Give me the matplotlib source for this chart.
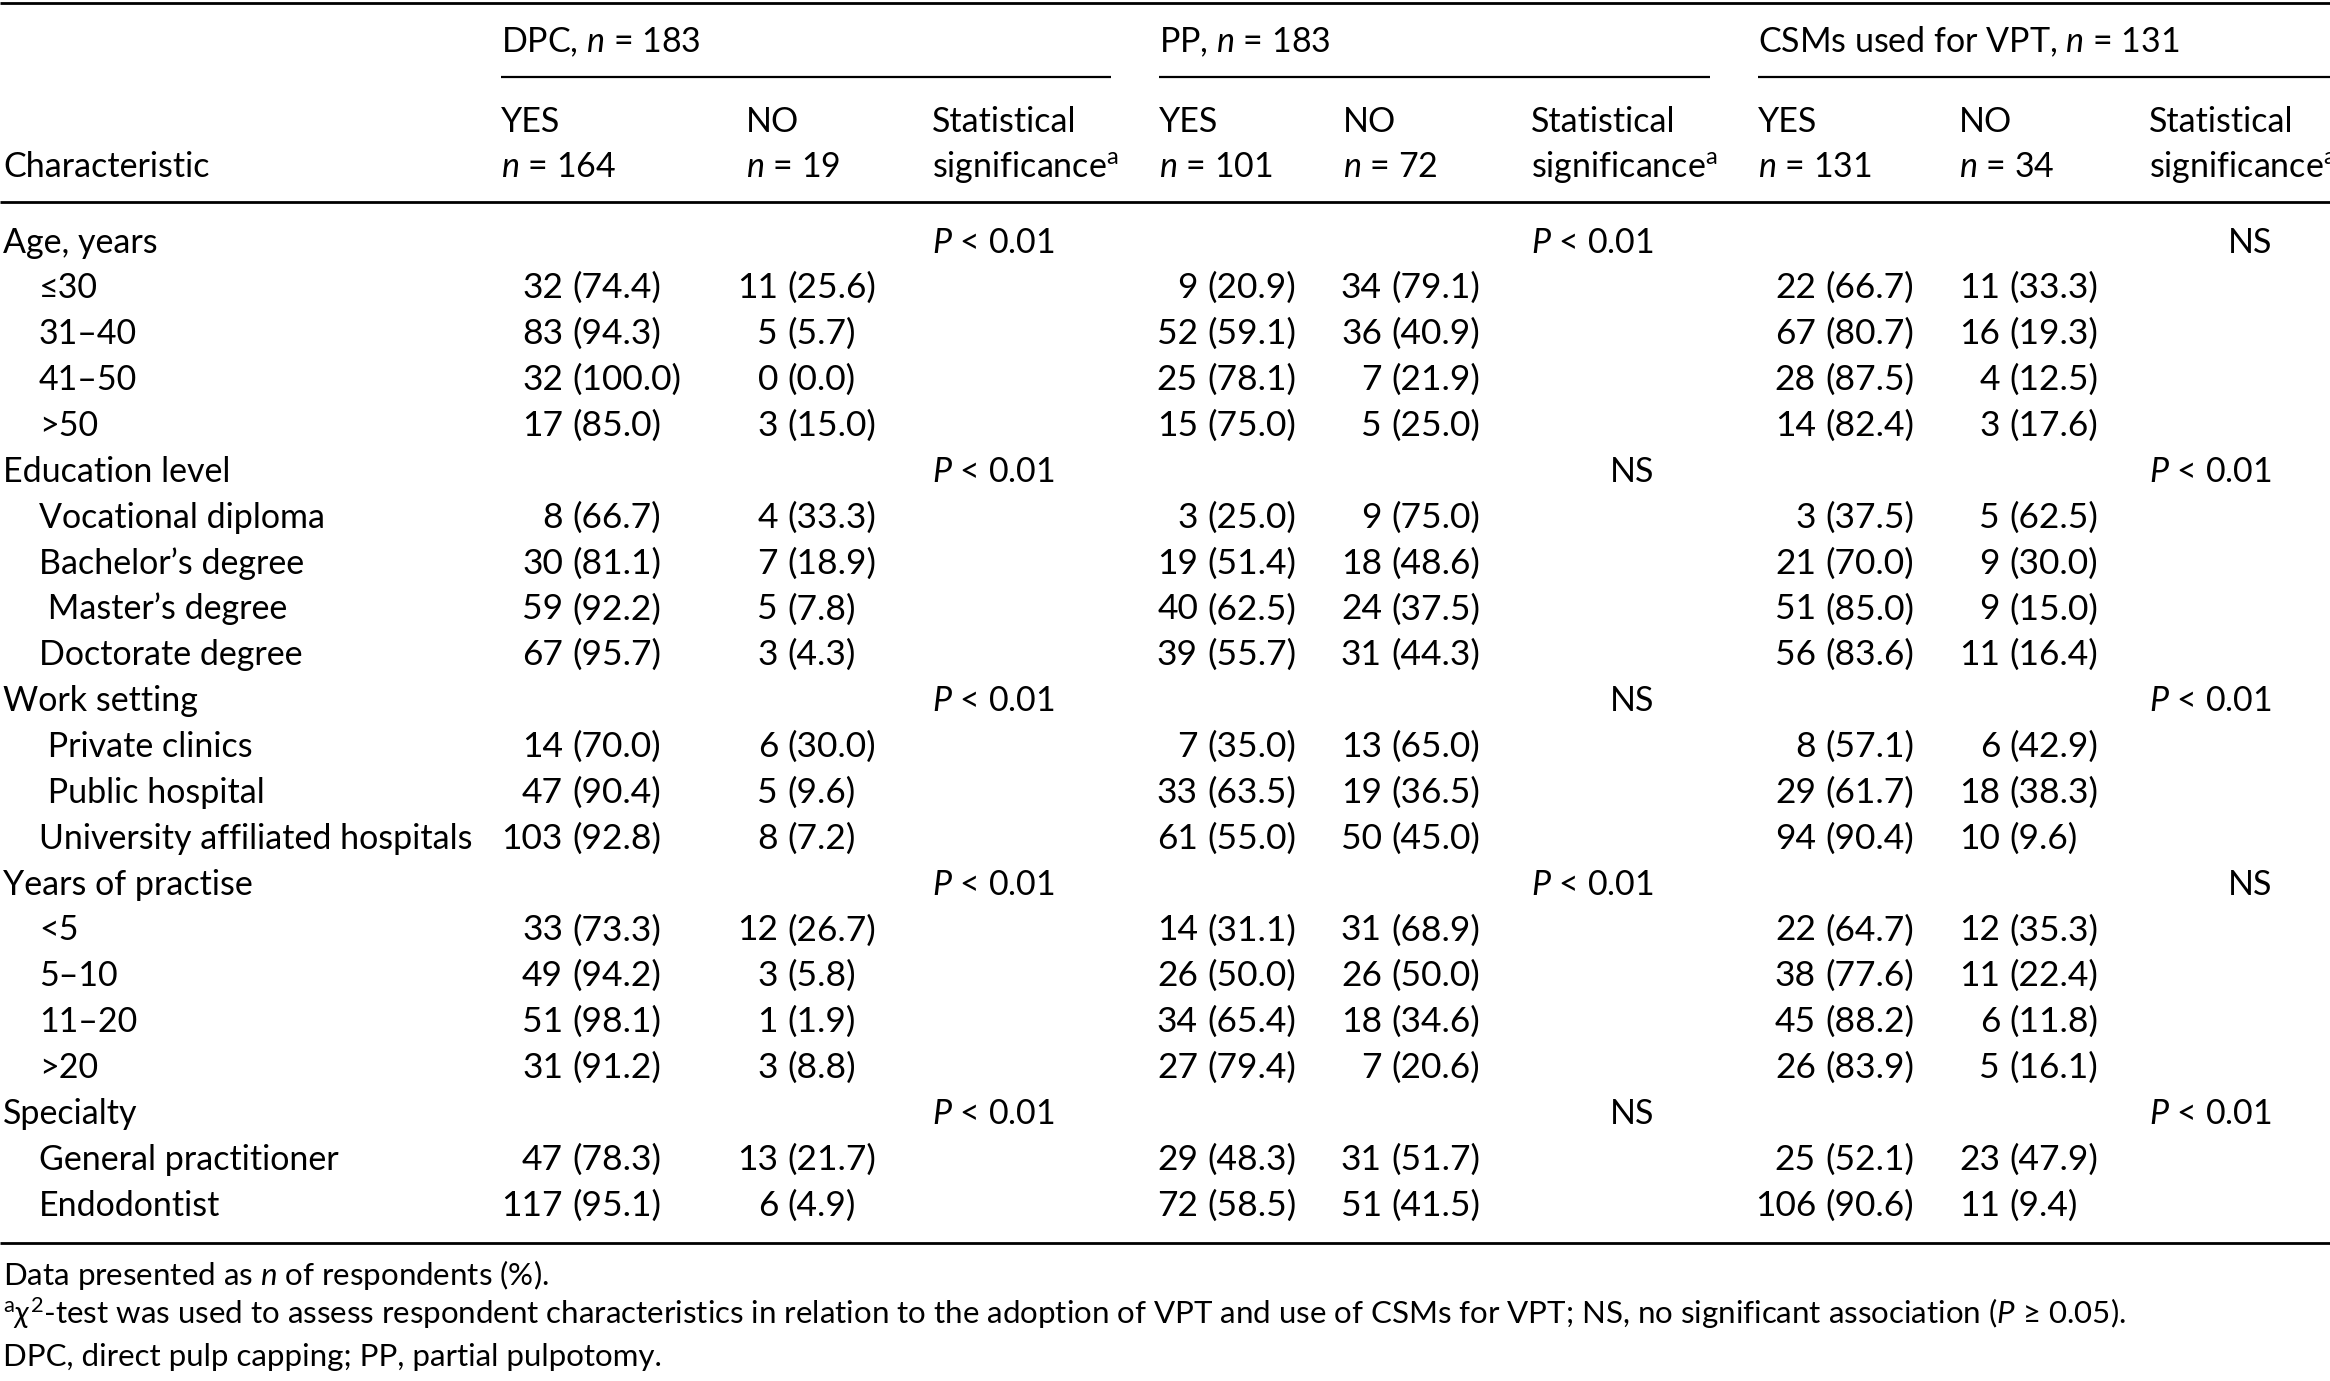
import matplotlib
matplotlib.use('Agg')
import matplotlib.pyplot as plt

plt.rcParams['font.family'] = ['Lato', 'DejaVu Sans']
plt.rcParams['mathtext.fontset'] = 'custom'
plt.rcParams['mathtext.rm'] = 'Lato'
plt.rcParams['mathtext.it'] = 'Lato:italic'
plt.rcParams['mathtext.fallback'] = 'stix'

groups = ['Age, years', 'Education level', 'Work setting', 'Years of practise', 'Specialty']
subcats = [
    ['≤30', '31–40', '41–50', '>50'],
    ['Vocational diploma', 'Bachelor’s degree', ' Master’s degree', 'Doctorate degree'],
    [' Private clinics', ' Public hospital', 'University affiliated hospitals'],
    ['<5', '5–10', '11–20', '>20'],
    ['General practitioner', 'Endodontist'],
]

dpc_yes_n = [32, 83, 32, 17, 8, 30, 59, 67, 14, 47, 103, 33, 49, 51, 31, 47, 117]
dpc_yes_pct = [74.4, 94.3, 100.0, 85.0, 66.7, 81.1, 92.2, 95.7, 70.0, 90.4, 92.8, 73.3, 94.2, 98.1, 91.2, 78.3, 95.1]
dpc_no_n = [11, 5, 0, 3, 4, 7, 5, 3, 6, 5, 8, 12, 3, 1, 3, 13, 6]
dpc_no_pct = [25.6, 5.7, 0.0, 15.0, 33.3, 18.9, 7.8, 4.3, 30.0, 9.6, 7.2, 26.7, 5.8, 1.9, 8.8, 21.7, 4.9]
pp_yes_n = [9, 52, 25, 15, 3, 19, 40, 39, 7, 33, 61, 14, 26, 34, 27, 29, 72]
pp_yes_pct = [20.9, 59.1, 78.1, 75.0, 25.0, 51.4, 62.5, 55.7, 35.0, 63.5, 55.0, 31.1, 50.0, 65.4, 79.4, 48.3, 58.5]
pp_no_n = [34, 36, 7, 5, 9, 18, 24, 31, 13, 19, 50, 31, 26, 18, 7, 31, 51]
pp_no_pct = [79.1, 40.9, 21.9, 25.0, 75.0, 48.6, 37.5, 44.3, 65.0, 36.5, 45.0, 68.9, 50.0, 34.6, 20.6, 51.7, 41.5]
csm_yes_n = [22, 67, 28, 14, 3, 21, 51, 56, 8, 29, 94, 22, 38, 45, 26, 25, 106]
csm_yes_pct = [66.7, 80.7, 87.5, 82.4, 37.5, 70.0, 85.0, 83.6, 57.1, 61.7, 90.4, 64.7, 77.6, 88.2, 83.9, 52.1, 90.6]
csm_no_n = [11, 16, 4, 3, 5, 9, 9, 11, 6, 18, 10, 12, 11, 6, 5, 23, 11]
csm_no_pct = [33.3, 19.3, 12.5, 17.6, 62.5, 30.0, 15.0, 16.4, 42.9, 38.3, 9.6, 35.3, 22.4, 11.8, 16.1, 47.9, 9.4]

# significance per group: 'P' -> P < 0.01, 'NS' -> not significant
dpc_sig = ['P', 'P', 'P', 'P', 'P']
pp_sig = ['P', 'NS', 'NS', 'P', 'NS']
csm_sig = ['NS', 'P', 'P', 'NS', 'P']

group_titles = ['DPC, $n$ = 183', 'PP, $n$ = 183', 'CSMs used for VPT, $n$ = 131']
yes_n = [164, 101, 131]
no_n = [19, 72, 34]

footnotes = [
    'Data presented as $n$ of respondents (%).',
    r'$^{\mathrm{a}}\chi^{2}$-test was used to assess respondent characteristics in relation to the adoption of VPT '
    r'and use of CSMs for VPT; NS, no significant association ($P$ ≥ 0.05).',
    'DPC, direct pulp capping; PP, partial pulpotomy.',
]

# ---- layout (pixels of the 2330x1381 canvas) ----
W, H = 2330, 1381
FS = 24.5
FS_NUM = 25.5
FS_NOTE = 22.5
col_left = [501, 1159, 1758]          # YES header left per group
no_left = [746, 1343, 1959]
stat_left = [932, 1531, 2149]
num_yes = [563, 1198, 1816]           # right edge of counts
num_no = [778, 1382, 2000]
line_end = [1111, 1710, W]
row0 = 252.5
step = 45.86
cap = 12
gap = 9

fig = plt.figure(figsize=(W / 100, H / 100), dpi=100)
ax = fig.add_axes([0, 0, 1, 1])
ax.set_xlim(0, W)
ax.set_ylim(H, 0)
ax.axis('off')


def txt(x, y, s, ha='left', fs=FS, **kw):
    return ax.text(x, y, s, ha=ha, va='baseline', fontsize=fs, color='black', **kw)


# rules
ax.hlines([3, 202, 1243], 0, W, color='black', lw=2.0)
for g in range(3):
    ax.hlines(77, col_left[g], line_end[g], color='black', lw=1.6)

# header
for g in range(3):
    txt(col_left[g], 40 + cap, group_titles[g])
    txt(col_left[g], 120 + cap, 'YES')
    txt(no_left[g], 120 + cap, 'NO')
    txt(stat_left[g], 120 + cap, 'Statistical')
    txt(col_left[g], 165 + cap, '$n$ = %d' % yes_n[g])
    txt(no_left[g], 165 + cap, '$n$ = %d' % no_n[g])
    txt(stat_left[g], 165 + cap, r'significance$^{\mathrm{a}}$')
txt(3, 165 + cap, 'Characteristic')

# body
series = [(dpc_yes_n, dpc_yes_pct, dpc_no_n, dpc_no_pct, dpc_sig),
          (pp_yes_n, pp_yes_pct, pp_no_n, pp_no_pct, pp_sig),
          (csm_yes_n, csm_yes_pct, csm_no_n, csm_no_pct, csm_sig)]

fig.canvas.draw()
renderer = fig.canvas.get_renderer()
p_probe = txt(0, 0, '$P$ < 0.01', alpha=0)
p_width = p_probe.get_window_extent(renderer).width
p_probe.remove()

row = 0
k = 0
for gi, gname in enumerate(groups):
    y = row0 + row * step
    txt(3, y, gname)
    for g in range(3):
        if series[g][4][gi] == 'P':
            txt(stat_left[g], y, '$P$ < 0.01')
        else:
            txt(stat_left[g] + p_width, y, 'NS', ha='right')
    row += 1
    for sub in subcats[gi]:
        y = row0 + row * step
        txt(39, y, sub)
        for g in range(3):
            yn, yp, nn, npct, _ = series[g]
            txt(num_yes[g], y, str(yn[k]), ha='right', fs=FS_NUM)
            txt(num_yes[g] + gap, y, '(%.1f)' % yp[k], fs=FS_NUM)
            txt(num_no[g], y, str(nn[k]), ha='right', fs=FS_NUM)
            txt(num_no[g] + gap, y, '(%.1f)' % npct[k], fs=FS_NUM)
        row += 1
        k += 1

for i, f in enumerate(footnotes):
    txt(3, [1285, 1324, 1366][i], f, fs=FS_NOTE)

fig.savefig('out.png', dpi=100)
